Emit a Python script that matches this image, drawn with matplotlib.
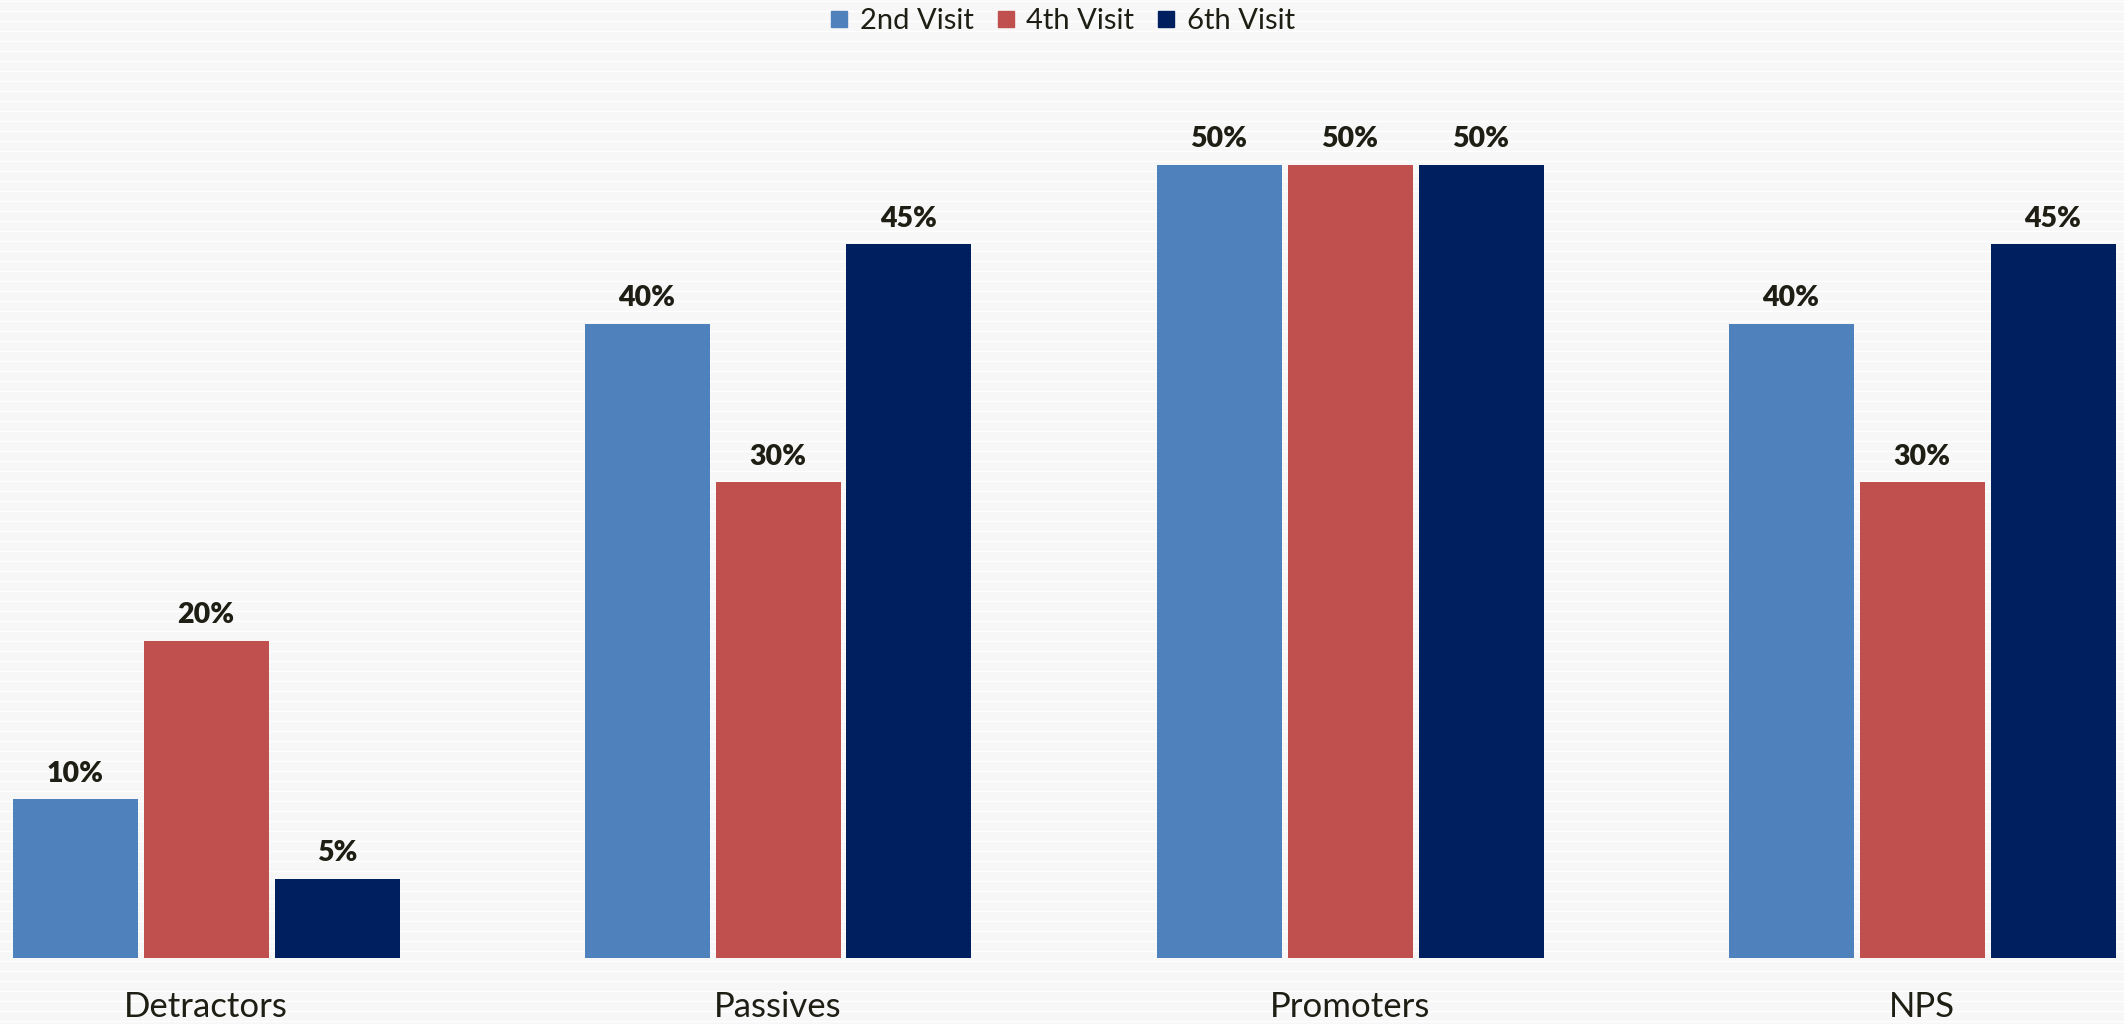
import numpy as np
import matplotlib
matplotlib.use("Agg")
import matplotlib.pyplot as plt
from matplotlib.lines import Line2D

# data
categories = ["Detractors", "Passives", "Promoters", "NPS"]
series_names = ["2nd Visit", "4th Visit", "6th Visit"]
visit_2 = [10, 40, 50, 40]
visit_4 = [20, 30, 50, 30]
visit_6 = [5, 45, 50, 45]

colors = ["#4F81BD", "#C0504D", "#001F5F"]
text_color = "#1e1e14"
plt.rcParams["font.family"] = ["Lato", "DejaVu Sans"]

W, H = 2124, 1024
fig = plt.figure(figsize=(W / 100, H / 100), dpi=100)
fig.patch.set_facecolor("#f7f7f7")

# striped background: thin white lines every 10 px
bg = fig.add_axes([0, 0, 1, 1], zorder=-1)
bg.set_xlim(0, W)
bg.set_ylim(H, 0)
bg.axis("off")
for yy in np.arange(0.5, H, 10):
    bg.axhline(yy, color="white", lw=0.9)

# main axes: baseline 66 px from bottom, 15.86 px per percent
px_per_unit = 15.86
bottom = 66 / H
top_units = 58
ax = fig.add_axes([0, bottom, 1, top_units * px_per_unit / H])
ax.patch.set_alpha(0)
ax.set_xlim(-206 / 572, (W - 206) / 572)
ax.set_ylim(0, top_units)

x = np.arange(len(categories))
pitch = 131 / 572
width = 125 / 572
for i, (vals, name) in enumerate(zip([visit_2, visit_4, visit_6], series_names)):
    pos = x + (i - 1) * pitch
    bars = ax.bar(pos, vals, width=width, color=colors[i], label=name)
    for b, v in zip(bars, vals):
        ax.text(b.get_x() + b.get_width() / 2, v + 0.8, f"{v}%",
                ha="center", va="bottom", fontsize=20.5, fontweight="heavy",
                color=text_color)

ax.set_xticks(x)
ax.set_xticklabels(categories, fontsize=25, color=text_color)
ax.tick_params(axis="x", length=0, pad=24)
ax.set_yticks([])
for s in ax.spines.values():
    s.set_visible(False)

handles = [Line2D([], [], marker="s", linestyle="none", markersize=12,
                  markerfacecolor=c, markeredgecolor=c) for c in colors]
fig.legend(handles, series_names, loc="center", bbox_to_anchor=(0.5, 1 - 21 / H),
           ncol=3, frameon=False, fontsize=21, handlelength=0.7,
           handletextpad=0.35, columnspacing=0.75, labelcolor=text_color)

fig.savefig("out.png", dpi=100, facecolor=fig.get_facecolor())
